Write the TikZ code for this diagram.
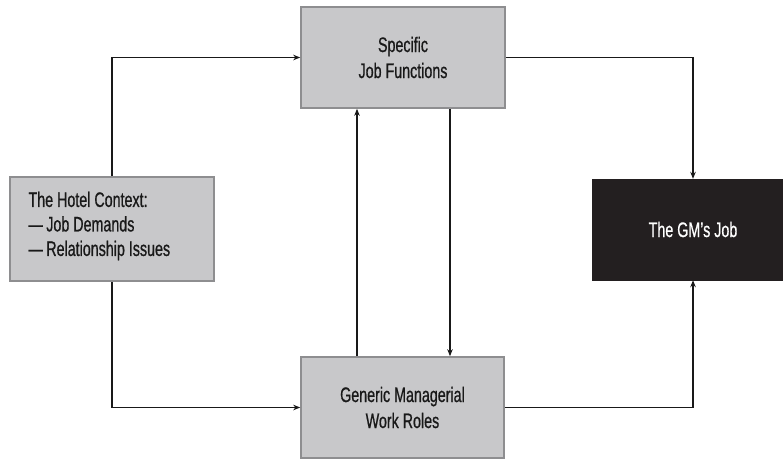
\documentclass[tikz,border=0pt]{standalone}
\usepackage{fontspec}
\setmainfont[FakeStretch=0.68,FakeBold=0.7]{Liberation Sans}
\usetikzlibrary{arrows.meta}
\definecolor{boxfill}{HTML}{C8C8CA}
\definecolor{boxline}{HTML}{8E8E90}
\definecolor{darkbox}{HTML}{231F20}
\begin{document}
\begin{tikzpicture}[x=1pt,y=-1pt,
  graybox/.style={draw=boxline,line width=1.6pt,fill=boxfill,inner sep=0pt,
    font=\fontsize{21}{26}\selectfont,align=center,text=black!90},
  conn/.style={line width=1.1pt,draw=black!90,-{Stealth[length=7pt,width=5.5pt]}}]
\useasboundingbox (0,0) rectangle (783,459);
\node[graybox,minimum width=204pt,minimum height=104pt] (L) at (112,229) {};
\node[anchor=west,font=\fontsize{21}{24.5}\selectfont,align=left,text=black!90] (Lt) at (25,226)
  {The Hotel Context:\\ —\,Job Demands\\ —\,Relationship Issues};
\node[graybox,minimum width=204pt,minimum height=101pt] (T) at (403,57.5) {Specific\\ Job Functions};
\node[graybox,minimum width=203pt,minimum height=101pt] (B) at (402.5,407.5) {Generic Managerial\\ Work Roles};
\node[fill=darkbox,draw=darkbox,minimum width=202pt,minimum height=101pt,inner sep=0pt,
  text=white,font=\fontsize{21}{26}\selectfont] (G) at (693,229.5) {The GM’s Job};
\draw[conn] (L.north) |- (T.west);
\draw[conn] (L.south) |- (B.west);
\draw[conn] (B.north -| 357,0) -- (T.south -| 357,0);
\draw[conn] (T.south -| 450,0) -- (B.north -| 450,0);
\draw[conn] (T.east) -| (G.north);
\draw[conn] (B.east) -| (G.south);
\end{tikzpicture}
\end{document}
